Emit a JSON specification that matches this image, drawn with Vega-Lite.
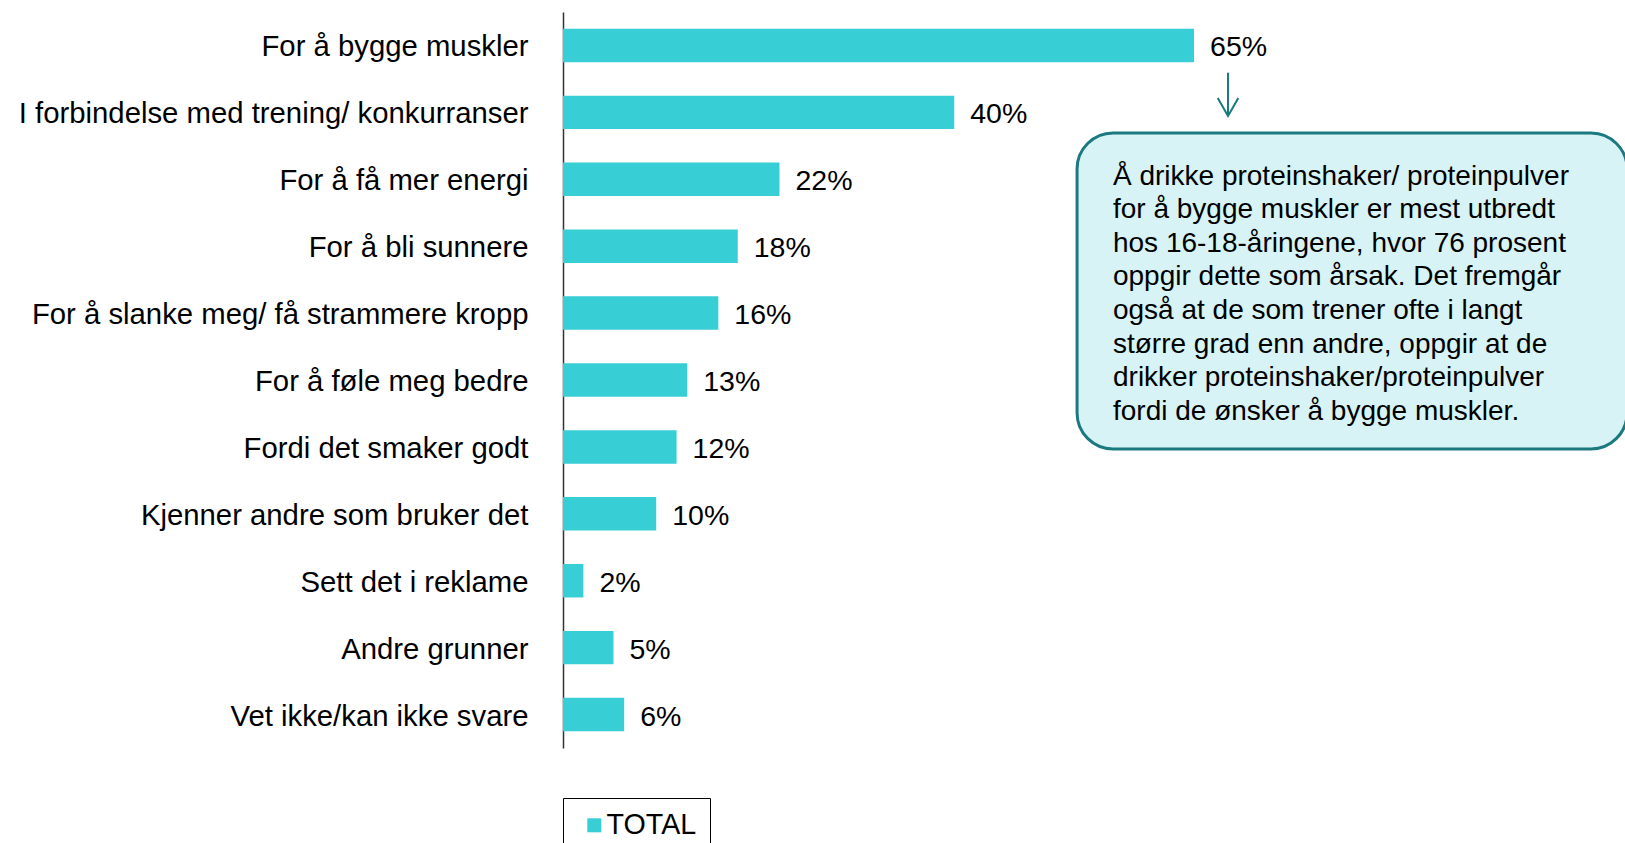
{
  "$schema": "https://vega.github.io/schema/vega-lite/v6.json",
  "width": 1062,
  "height": 736,
  "autosize": {"type": "none"},
  "padding": {"left": 563, "top": 12, "right": 0, "bottom": 95},
  "background": "white",
  "config": {
    "view": {"stroke": null},
    "font": "Liberation Sans",
    "text": {"font": "Liberation Sans"}
  },
  "datasets": {
    "bars": [
      {"reason": "For å bygge muskler", "share": 0.65, "series": "TOTAL"},
      {"reason": "I forbindelse med trening/ konkurranser", "share": 0.403, "series": "TOTAL"},
      {"reason": "For å få mer energi", "share": 0.223, "series": "TOTAL"},
      {"reason": "For å bli sunnere", "share": 0.18, "series": "TOTAL"},
      {"reason": "For å slanke meg/ få strammere kropp", "share": 0.16, "series": "TOTAL"},
      {"reason": "For å føle meg bedre", "share": 0.128, "series": "TOTAL"},
      {"reason": "Fordi det smaker godt", "share": 0.117, "series": "TOTAL"},
      {"reason": "Kjenner andre som bruker det", "share": 0.096, "series": "TOTAL"},
      {"reason": "Sett det i reklame", "share": 0.021, "series": "TOTAL"},
      {"reason": "Andre grunner", "share": 0.052, "series": "TOTAL"},
      {"reason": "Vet ikke/kan ikke svare", "share": 0.063, "series": "TOTAL"}
    ],
    "note": [
      {
        "boxLeft": 0.5295, "boxRight": 1.096, "boxTop": 1.808, "boxBottom": 6.531,
        "textX": 0.5665, "textY": 2.252,
        "arrowX": 0.685, "arrowTop": 0.907, "arrowTip": 1.554,
        "lines": [
          "Å drikke proteinshaker/ proteinpulver",
          "for å bygge muskler er mest utbredt",
          "hos 16-18-åringene, hvor 76 prosent",
          "oppgir dette som årsak. Det fremgår",
          "også at de som trener ofte i langt",
          "større grad enn andre, oppgir at de",
          "drikker proteinshaker/proteinpulver",
          "fordi de ønsker å bygge muskler."
        ]
      }
    ]
  },
  "layer": [
    {
      "data": {"name": "bars"},
      "encoding": {
        "y": {
          "field": "reason",
          "type": "nominal",
          "sort": null,
          "scale": {"paddingInner": 0.5, "paddingOuter": 0.25},
          "axis": {
            "title": null,
            "ticks": false,
            "grid": false,
            "labelFont": "Liberation Sans",
            "labelFontSize": 29.3,
            "labelColor": "#000000",
            "labelPadding": 35,
            "labelOffset": 2,
            "labelLimit": 800,
            "domain": true,
            "domainColor": "#333333",
            "domainWidth": 1.5
          }
        },
        "x": {
          "field": "share",
          "type": "quantitative",
          "scale": {"domain": [0, 1.0939], "nice": false, "zero": true},
          "axis": null
        }
      },
      "layer": [
        {
          "mark": {"type": "bar"},
          "encoding": {
            "color": {
              "field": "series",
              "type": "nominal",
              "scale": {"range": ["#38CED6"]},
              "legend": {
                "title": null,
                "orient": "none",
                "legendX": 0,
                "legendY": 786,
                "direction": "horizontal",
                "strokeColor": "#000000",
                "fillColor": "#FFFFFF",
                "padding": 13,
                "cornerRadius": 0,
                "symbolType": "square",
                "symbolSize": 196,
                "symbolOffset": 4,
                "symbolStrokeWidth": 0,
                "labelOffset": -2,
                "labelFont": "Liberation Sans",
                "labelFontSize": 28.6,
                "labelColor": "#000000"
              }
            }
          }
        },
        {
          "mark": {
            "type": "text",
            "align": "left",
            "baseline": "middle",
            "dx": 16,
            "dy": 2,
            "fontSize": 28.5,
            "font": "Liberation Sans",
            "color": "#000000"
          },
          "encoding": {
            "text": {"field": "share", "type": "quantitative", "format": ".0%"}
          }
        }
      ]
    },
    {
      "data": {"name": "note"},
      "layer": [
        {
          "mark": {
            "type": "rect",
            "cornerRadius": 36,
            "fill": "#D7F3F5",
            "stroke": "#1A7A80",
            "strokeWidth": 3,
            "clip": true
          },
          "encoding": {
            "x": {"field": "boxLeft", "type": "quantitative", "scale": {"domain": [0, 1.0939], "nice": false}, "axis": null},
            "x2": {"field": "boxRight"},
            "y": {"field": "boxTop", "type": "quantitative", "scale": {"domain": [0, 11], "reverse": true, "nice": false, "zero": false}, "axis": null},
            "y2": {"field": "boxBottom"}
          }
        },
        {
          "mark": {
            "type": "text",
            "align": "left",
            "baseline": "top",
            "lineHeight": 33.6,
            "fontSize": 28,
            "font": "Liberation Sans",
            "color": "#000000"
          },
          "encoding": {
            "x": {"field": "textX", "type": "quantitative", "scale": {"domain": [0, 1.0939], "nice": false}, "axis": null},
            "y": {"field": "textY", "type": "quantitative", "scale": {"domain": [0, 11], "reverse": true, "nice": false, "zero": false}, "axis": null},
            "text": {"field": "lines", "type": "nominal"}
          }
        },
        {
          "mark": {"type": "rule", "stroke": "#1A7A80", "strokeWidth": 2},
          "encoding": {
            "x": {"field": "arrowX", "type": "quantitative", "scale": {"domain": [0, 1.0939], "nice": false}, "axis": null},
            "y": {"field": "arrowTop", "type": "quantitative", "scale": {"domain": [0, 11], "reverse": true, "nice": false, "zero": false}, "axis": null},
            "y2": {"field": "arrowTip"}
          }
        },
        {
          "mark": {
            "type": "point",
            "shape": "M-1,-1.75L0,0L1,-1.75",
            "filled": false,
            "size": 424,
            "stroke": "#1A7A80",
            "strokeWidth": 2,
            "opacity": 1
          },
          "encoding": {
            "x": {"field": "arrowX", "type": "quantitative", "scale": {"domain": [0, 1.0939], "nice": false}, "axis": null},
            "y": {"field": "arrowTip", "type": "quantitative", "scale": {"domain": [0, 11], "reverse": true, "nice": false, "zero": false}, "axis": null}
          }
        }
      ]
    }
  ],
  "resolve": {"scale": {"y": "independent"}}
}
